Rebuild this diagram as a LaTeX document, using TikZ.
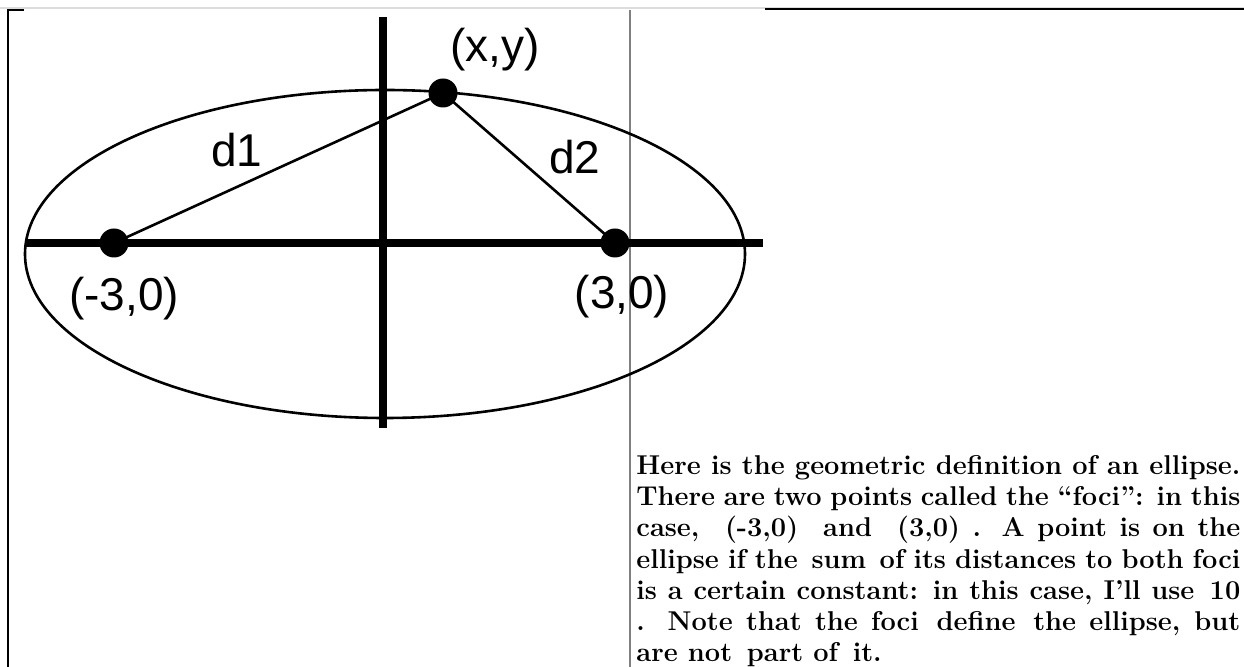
\documentclass[tikz,border=0pt]{standalone}
\usepackage{fontspec}
\newfontfamily\labelfont{Liberation Sans}
\usetikzlibrary{positioning}
\definecolor{ink}{RGB}{0,0,0}
\definecolor{rule}{RGB}{128,128,128}
\definecolor{pale}{RGB}{220,220,220}
\tikzset{
  axis/.style={draw=ink,line width=4pt},
  curve/.style={draw=ink,line width=1.3pt},
  frame/.style={draw=#1,line width=1pt},
  frame/.default=ink,
  dot/.style={circle,fill=ink,inner sep=0pt,minimum size=14.5pt},
  lbl/.style={font=\labelfont\fontsize{23pt}{26pt}\selectfont,inner sep=0pt},
  blurb/.style={font=\fontsize{13.6pt}{15.6pt}\selectfont\bfseries,text width=302pt,
    align=justify,inner sep=0pt,anchor=north west},
}
\begin{document}
\begin{tikzpicture}[x=0.5pt,y=-0.5pt]
  \useasboundingbox (0,0) rectangle (1244,667);
  % page rules
  \draw[frame=pale] (0,8) -- (1244,8);
  \draw[frame] (24,10) -- (8,10) -- (8,667);
  \draw[frame] (765,9.5) -- (1244,9.5);
  \draw[frame=rule] (630,10) -- (630,667);
  % ellipse and axes
  \draw[curve] (385,254) ellipse [x radius=180pt,y radius=82pt];
  \draw[axis] (383,17) -- (383,428);
  \draw[axis] (25,243) -- (763,243);
  % foci and point
  \foreach \n/\x/\y in {F1/114/243,F2/615/243,P/443/93}
    \node[dot] (\n) at (\x,\y) {};
  \draw[curve] (F1.center) -- (P.center) -- (F2.center);
  \node[lbl] (lP) at (495,50) {(x,y)};
  \node[lbl] (lF1) at (124,299) {(-3,0)};
  \node[lbl] (lF2) at (622,297) {(3,0)};
  \node[lbl] (d1) at (237,150) {d1};
  \node[lbl] (d2) at (575,157) {d2};
  % explanation
  \node[blurb] (note) at (636,455) {Here is the geometric definition of an ellipse.\linebreak
    There are two points called the ``foci'': in this\linebreak
    case, \ (-3,0) \ and \ (3,0) . A point is on the\linebreak
    ellipse if the \,sum\, of its distances to both foci\linebreak
    is a certain constant: in this case, I'll use \,10\linebreak
    . Note that the foci \,define\, the ellipse, but\linebreak
    are not \,part of\, it.};
\end{tikzpicture}
\end{document}
